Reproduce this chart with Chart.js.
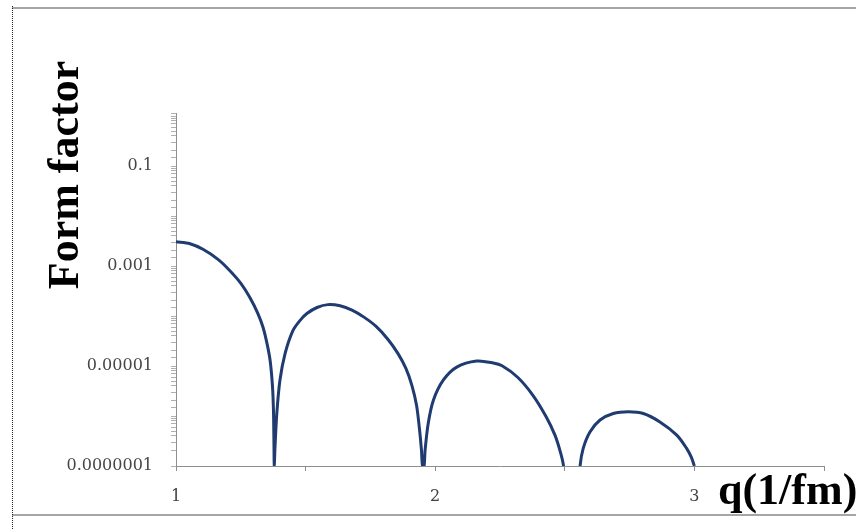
<!DOCTYPE html>
<html>
<head>
<meta charset="utf-8">
<script src="https://cdn.jsdelivr.net/npm/chart.js@4.4.1/dist/chart.umd.min.js"></script>
<style>
  html, body { margin: 0; padding: 0; background: #ffffff; }
  #wrap { position: absolute; left: 0; top: 0; width: 856px; height: 529px; }
</style>
</head>
<body>
<div id="wrap"><canvas id="c" width="856" height="529"></canvas></div>
<script>
// ---- data ----
const qValues = [
  1.000, 1.054, 1.104, 1.162, 1.208, 1.251, 1.285, 1.316, 1.336, 1.351, 1.363, 1.372, 1.376, 1.378, 1.379,
  1.382, 1.389, 1.401, 1.421, 1.451, 1.478, 1.505, 1.544, 1.586, 1.633, 1.679, 1.725, 1.772, 1.818, 1.856, 1.887, 1.910, 1.928, 1.939, 1.947, 1.951, 1.957,
  1.961, 1.973, 1.993, 2.031, 2.083, 2.160, 2.224, 2.258, 2.319, 2.377, 2.427, 2.462, 2.483, 2.495, 2.527,
  2.559, 2.571, 2.597, 2.636, 2.687, 2.745, 2.803, 2.867, 2.932, 2.970, 2.988, 3.000
];
const formFactor = [
  3.05e-3, 2.79e-3, 2.16e-3, 1.36e-3, 8.07e-4, 4.45e-4, 2.34e-4, 1.12e-4, 5.9e-5, 2.83e-5, 1.30e-5, 4.1e-6, 1.31e-6, 2.6e-7, 1e-7,
  2.4e-7, 1.14e-6, 5.2e-6, 1.79e-5, 5.1e-5, 8.1e-5, 1.12e-4, 1.48e-4, 1.69e-4, 1.60e-4, 1.31e-4, 9.5e-5, 6.2e-5, 3.4e-5, 1.79e-5, 8.97e-6, 4.1e-6, 1.64e-6, 5.7e-7, 2.08e-7, 1e-7, 1e-7,
  2.08e-7, 7.1e-7, 2.07e-6, 5.2e-6, 9.5e-6, 1.26e-5, 1.15e-5, 1.01e-5, 5.9e-6, 2.6e-6, 9.9e-7, 4.15e-7, 1.9e-7, 1e-7, 1e-9,
  1e-7, 2.25e-7, 4.8e-7, 8.3e-7, 1.12e-6, 1.21e-6, 1.12e-6, 7.6e-7, 4.15e-7, 2.25e-7, 1.5e-7, 1e-7
];
const xTickValues = [1, 2, 3];
const xTickLabels = ['1', '2', '3'];
const yTickValues = [1e-1, 1e-3, 1e-5, 1e-7];
const yTickLabels = ['0.1', '0.001', '0.00001', '0.0000001'];
const yTitle = 'Form factor';
const xTitle = 'q(1/fm)';

const points = qValues.map((q, i) => ({ x: q, y: formFactor[i] }));

const axisGray = '#8e8e8e';

const decorPlugin = {
  id: 'decor',
  beforeDraw(chart) {
    const ctx = chart.ctx;
    ctx.save();
    ctx.fillStyle = '#ffffff';
    ctx.fillRect(0, 0, chart.width, chart.height);
    // page frame lines
    ctx.strokeStyle = '#a6a6a6';
    ctx.lineWidth = 2;
    ctx.beginPath();
    ctx.moveTo(12, 8); ctx.lineTo(856, 8);
    ctx.moveTo(12, 515); ctx.lineTo(856, 515);
    ctx.stroke();
    ctx.strokeStyle = '#222222';
    ctx.lineWidth = 1;
    ctx.setLineDash([1, 1]);
    ctx.beginPath();
    ctx.moveTo(12.5, 6); ctx.lineTo(12.5, 529);
    ctx.stroke();
    ctx.restore();
  },
  afterDraw(chart) {
    const ctx = chart.ctx;
    ctx.save();
    ctx.fillStyle = '#000000';
    ctx.font = "bold 44px 'Liberation Serif', 'Times New Roman', serif";
    // y-axis title (rotated)
    ctx.save();
    ctx.translate(78, 175);
    ctx.rotate(-Math.PI / 2);
    ctx.textAlign = 'center';
    ctx.textBaseline = 'alphabetic';
    ctx.fillText(yTitle, 0, 0);
    ctx.restore();
    // x-axis title at the right end of the axis
    ctx.textAlign = 'left';
    ctx.textBaseline = 'alphabetic';
    ctx.fillText(xTitle, 718, 504);
    ctx.restore();
  }
};

new Chart(document.getElementById('c'), {
  type: 'line',
  data: {
    datasets: [{
      data: points,
      borderColor: '#1f3b70',
      borderWidth: 3,
      pointRadius: 0,
      fill: false,
      tension: 0.3
    }]
  },
  options: {
    responsive: false,
    animation: false,
    devicePixelRatio: 1,
    layout: { padding: { top: 113, right: 32, bottom: 0, left: 0 } },
    plugins: { legend: { display: false }, tooltip: { enabled: false } },
    scales: {
      x: {
        type: 'linear',
        min: 1,
        max: 3.5,
        border: { color: axisGray, width: 1 },
        grid: { drawOnChartArea: false, drawTicks: true, tickLength: 5, color: axisGray },
        ticks: {
          stepSize: 0.5,
          autoSkip: false,
          maxRotation: 0,
          padding: 16,
          color: '#404040',
          font: { family: "'DejaVu Serif', serif", size: 16 },
          callback: (v) => {
            const i = xTickValues.findIndex(t => Math.abs(t - v) < 1e-9);
            return i >= 0 ? xTickLabels[i] : '';
          }
        },
        afterFit: (s) => { s.height = 63; }
      },
      y: {
        type: 'logarithmic',
        min: 1e-7,
        max: 1.15,
        border: { color: axisGray, width: 1 },
        grid: { drawOnChartArea: false, drawTicks: true, tickLength: 5, color: '#b0b0b0' },
        ticks: {
          autoSkip: false,
          padding: 18,
          color: '#454545',
          font: { family: "'DejaVu Serif', serif", size: 16 },
          callback: (v) => {
            const i = yTickValues.findIndex(t => Math.abs(Math.log10(v) - Math.log10(t)) < 1e-6);
            return i >= 0 ? yTickLabels[i] : '';
          }
        },
        afterFit: (s) => { s.width = 176; }
      }
    }
  },
  plugins: [decorPlugin]
});
</script>
</body>
</html>
